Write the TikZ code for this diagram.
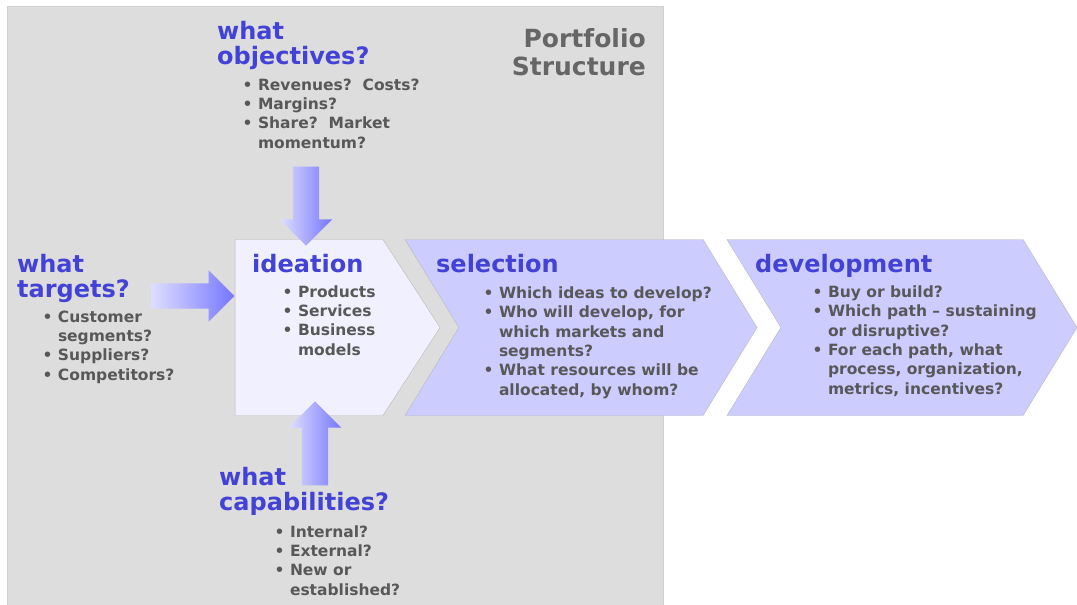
\documentclass[tikz,border=0pt]{standalone}
\usepackage{fontspec}
\setmainfont{DejaVu Sans}
\usetikzlibrary{shapes.symbols, shapes.arrows, positioning}

\definecolor{panelgray}{RGB}{221,221,221}
\definecolor{paneledge}{RGB}{208,208,208}
\definecolor{stageedge}{RGB}{185,185,185}
\definecolor{ideafill}{RGB}{240,240,255}
\definecolor{stagefill}{RGB}{204,204,255}
\definecolor{headblue}{RGB}{66,66,214}
\definecolor{listgray}{RGB}{88,88,88}
\definecolor{titlegray}{RGB}{102,102,102}
\definecolor{arrowlight}{RGB}{222,222,255}
\definecolor{arrowdark}{RGB}{118,118,255}

\newcommand{\bull}{\textbullet\ }
\newcommand{\cont}{\hphantom{\textbullet\ }}

\tikzstyle{panel} = [rectangle, fill=panelgray, draw=paneledge, line width=1pt, anchor=north west, inner sep=0]
\tikzstyle{stage} = [signal, signal to=east, draw=stageedge, fill=stagefill, minimum height=176pt, inner sep=0]
\tikzstyle{question} = [anchor=base west, align=left, inner sep=0, text=headblue, font=\fontsize{24}{25}\selectfont\bfseries]
\tikzstyle{bullets} = [anchor=base west, align=left, inner sep=0, text=listgray, font=\fontsize{15.5}{19.3}\selectfont\bfseries]
\tikzstyle{bigarrow} = [single arrow, single arrow head extend=13pt, single arrow tip angle=90, inner xsep=0, inner ysep=13pt, left color=arrowlight, right color=arrowdark]

\begin{document}
\begin{tikzpicture}[x=1pt, y=-1pt]

\useasboundingbox[fill=white] (0,0) rectangle (1077,605);

\node (panel) [panel, minimum width=656pt, minimum height=610pt] at (7,6) {};

% the three stages
\node (ideation) [stage, fill=ideafill, minimum width=205pt, signal pointer angle=114] at (309,327.5) {};
\node (selection) [stage, signal from=west, minimum width=352pt, signal pointer angle=117] at (581,327.5) {};
\node (development) [stage, signal from=west, minimum width=350pt, signal pointer angle=117] at (902,327.5) {};

% inputs into ideation
\node (objarrow) [bigarrow, minimum height=79pt, rotate=-90] at (306,199.5) {};
\node (tgtarrow) [bigarrow, minimum height=83pt, inner ysep=12.5pt] at (186.5,296) {};
\node (caparrow) [bigarrow, minimum height=84pt, rotate=90] at (315,450) {};

\node (title) [anchor=base east, align=right, inner sep=0, text=titlegray, font=\fontsize{25}{28}\selectfont\bfseries] at (646,75) {Portfolio\\Structure};

\node (objq) [question] at (217,64.5) {what\\objectives?};
\node (objlist) [bullets] at (242.5,148) {\bull Revenues?\ \ Costs?\\ \bull Margins?\\ \bull Share?\ \ Market\\ \cont momentum?};

\node (tgtq) [question] at (17,297) {what\\targets?};
\node (tgtlist) [bullets] at (42.5,380) {\bull Customer\\ \cont segments?\\ \bull Suppliers?\\ \bull Competitors?};

\node (capq) [question] at (219,510) {what\\capabilities?};
\node (caplist) [bullets] at (274.5,595) {\bull Internal?\\ \bull External?\\ \bull New or\\ \cont established?};

\node (ideahead) [question] at (252,272) {ideation};
\node (idealist) [bullets] at (282.5,355) {\bull Products\\ \bull Services\\ \bull Business\\ \cont models};

\node (selhead) [question] at (436,272) {selection};
\node (sellist) [bullets] at (483.5,395) {\bull Which ideas to develop?\\ \bull Who will develop, for\\ \cont which markets and\\ \cont segments?\\ \bull What resources will be\\ \cont allocated, by whom?};

\node (devhead) [question] at (755,272) {development};
\node (devlist) [bullets] at (812.5,394) {\bull Buy or build?\\ \bull Which path -- sustaining\\ \cont or disruptive?\\ \bull For each path, what\\ \cont process, organization,\\ \cont metrics, incentives?};

\end{tikzpicture}
\end{document}
